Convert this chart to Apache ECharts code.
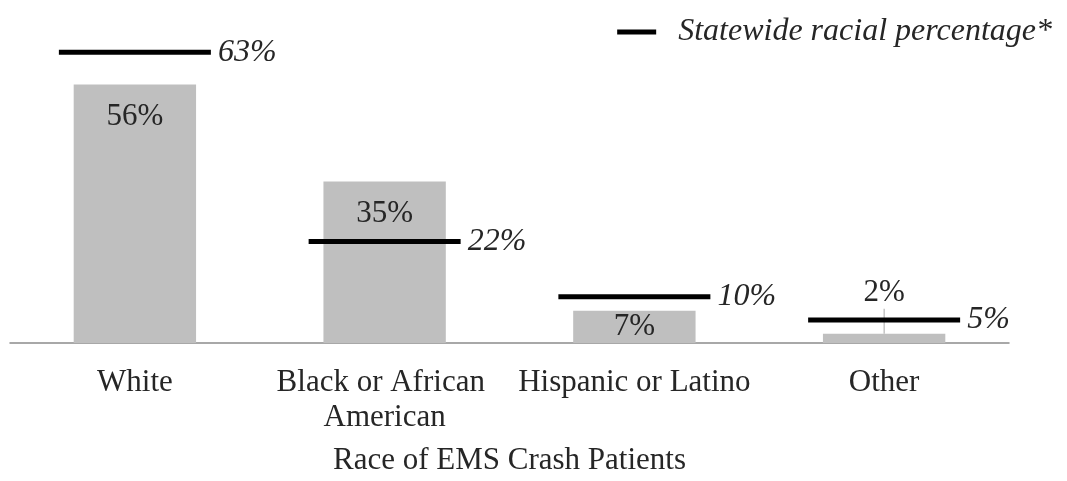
<!DOCTYPE html>
<html>
<head>
<meta charset="utf-8">
<script src="https://cdn.jsdelivr.net/npm/echarts@6/dist/echarts.min.js"></script>
<style>html,body{margin:0;padding:0;background:#fff}#c{width:1067px;height:481px}</style>
</head>
<body>
<div id="c"></div>
<script>
var categories = ['White', 'Black or African American', 'Hispanic or Latino', 'Other'];
var emsPatientPct = [56, 35, 7, 2];
var statewidePct = [63, 22, 10, 5];
var axisTitle = 'Race of EMS Crash Patients';
var statewideName = 'Statewide racial percentage*';

var FONT = "'Liberation Serif','Times New Roman',serif";
var TXT = '#262626';

var barData = emsPatientPct.map(function (v) {
  if (v < 5) {
    return { value: v, label: { position: 'top', distance: 4 }, labelLine: { show: true, lineStyle: { color: '#a6a6a6', width: 1 } } };
  }
  if (v < 10) {
    return { value: v, label: { position: 'inside', offset: [0, 3] } };
  }
  return v;
});

var chart = echarts.init(document.getElementById('c'));
chart.setOption({
  animation: false,
  textStyle: { fontFamily: FONT, color: TXT },
  grid: { left: 10, right: 58, top: 20, bottom: 132, containLabel: false },
  legend: {
    data: [statewideName],
    right: 10, top: 11,
    icon: 'rect', itemWidth: 39, itemHeight: 5,
    textStyle: { fontFamily: FONT, fontSize: 32, fontStyle: 'italic', color: TXT, padding: [0, 0, 0, 17] }
  },
  xAxis: {
    type: 'category',
    data: categories,
    axisTick: { show: false },
    axisLine: { lineStyle: { color: '#8c8c8c', width: 1.5 } },
    axisLabel: { fontFamily: FONT, fontSize: 31, color: TXT, margin: 22, lineHeight: 35, width: 245, overflow: 'break', interval: 0 },
    name: axisTitle,
    nameLocation: 'middle',
    nameGap: 102,
    nameTextStyle: { fontFamily: FONT, fontSize: 31, color: TXT }
  },
  yAxis: { type: 'value', min: 0, max: 70, show: false, splitLine: { show: false } },
  series: [
    {
      name: 'EMS crash patients',
      type: 'bar',
      data: barData,
      barWidth: '49%',
      itemStyle: { color: '#bfbfbf' },
      label: { show: true, position: 'insideTop', distance: 17, formatter: '{c}%', fontFamily: FONT, fontSize: 31, color: TXT },
      labelLayout: function (p) {
        return emsPatientPct[p.dataIndex] < 5 ? { dy: -21 } : {};
      }
    },
    {
      name: statewideName,
      type: 'scatter',
      data: statewidePct,
      symbol: 'rect',
      symbolSize: [152, 5],
      itemStyle: { color: '#000', opacity: 1 },
      label: { show: true, position: 'right', distance: 7, formatter: '{c}%', fontFamily: FONT, fontSize: 32, fontStyle: 'italic', color: TXT }
    }
  ]
});
</script>
</body>
</html>
